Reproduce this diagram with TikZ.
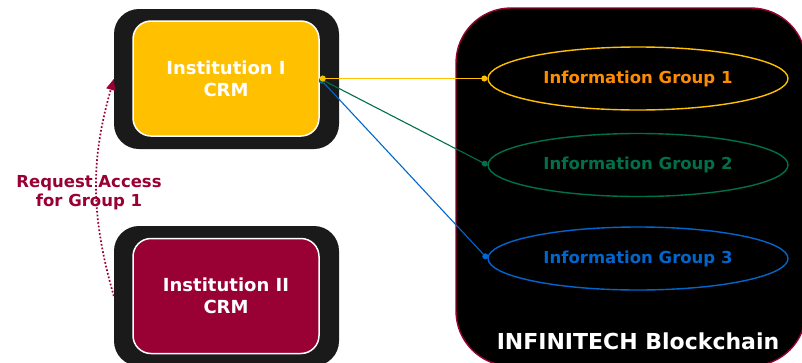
\documentclass[tikz,border=0pt]{standalone}
\usepackage{fontspec}
\setmainfont{DejaVu Sans}
\usepackage{tikz}
\usetikzlibrary{arrows.meta,shapes.geometric}

\definecolor{crmyellow}{HTML}{FFC000}
\definecolor{crmred}{HTML}{990033}
\definecolor{outerbox}{HTML}{1A1A1A}
\definecolor{grporange}{HTML}{FF8C00}
\definecolor{grpgreen}{HTML}{00704A}
\definecolor{grpblue}{HTML}{0066CC}

\begin{document}
\begin{tikzpicture}[x=1pt,y=-1pt]
	\tikzset{outer/.style = {fill=outerbox, rounded corners=25pt, minimum width=225pt, minimum height=140pt, inner sep=0}}
	\tikzset{crm/.style = {draw=white, line width=1.5pt, rounded corners=18pt, minimum width=186pt, minimum height=115pt, text=white, align=center, font=\bfseries\fontsize{18}{22}\selectfont}}
	\tikzset{grp/.style = {ellipse, draw, line width=1.4pt, minimum width=300pt, minimum height=63pt, inner sep=0, font=\bfseries\fontsize{16.5}{20}\selectfont}}
	\tikzset{link/.style = {line width=1.1pt, {Circle[length=6pt]}-{Circle[length=6pt]}}}

	\useasboundingbox (0,0) rectangle (802,362);

	% boxes
	\node[outer] (inst1out) at (226.5,79) {};
	\node[crm, fill=crmyellow] (inst1) at (226,78.5) {Institution I\\CRM};
	\node[outer] (inst2out) at (226.5,296) {};
	\node[crm, fill=crmred] (inst2) at (226,296) {Institution II\\CRM};
	\node[fill=black, draw=crmred, line width=1.4pt, rounded corners=55pt, minimum width=350pt, minimum height=358pt, inner sep=0] (chain) at (631,187) {};
	\node[text=white, font=\bfseries\fontsize{22}{26}\selectfont] (chainlbl) at (638,341) {INFINITECH Blockchain};

	% groups
	\node[grp, draw=crmyellow, text=grporange] (grp1) at (638,78.5) {Information Group 1};
	\node[grp, draw=grpgreen, text=grpgreen] (grp2) at (638,165) {Information Group 2};
	\node[grp, draw=grpblue, text=grpblue] (grp3) at (638,258.5) {Information Group 3};

	% request
	\node[text=crmred, align=center, font=\bfseries\fontsize{16.5}{19}\selectfont] (req) at (89,193) {Request Access\\for Group 1};

	% edges
	\draw[link, grpblue] (inst1.east) -- (grp3.west);
	\draw[link, grpgreen] (inst1.east) -- (grp2.west);
	\draw[link, crmyellow] (inst1.east) -- (grp1.west);
	\draw[crmred, line width=1.7pt, dotted, -{Triangle[length=11pt, width=9pt]}] (inst2out.west) to [bend left=16] (inst1out.west);
\end{tikzpicture}
\end{document}
